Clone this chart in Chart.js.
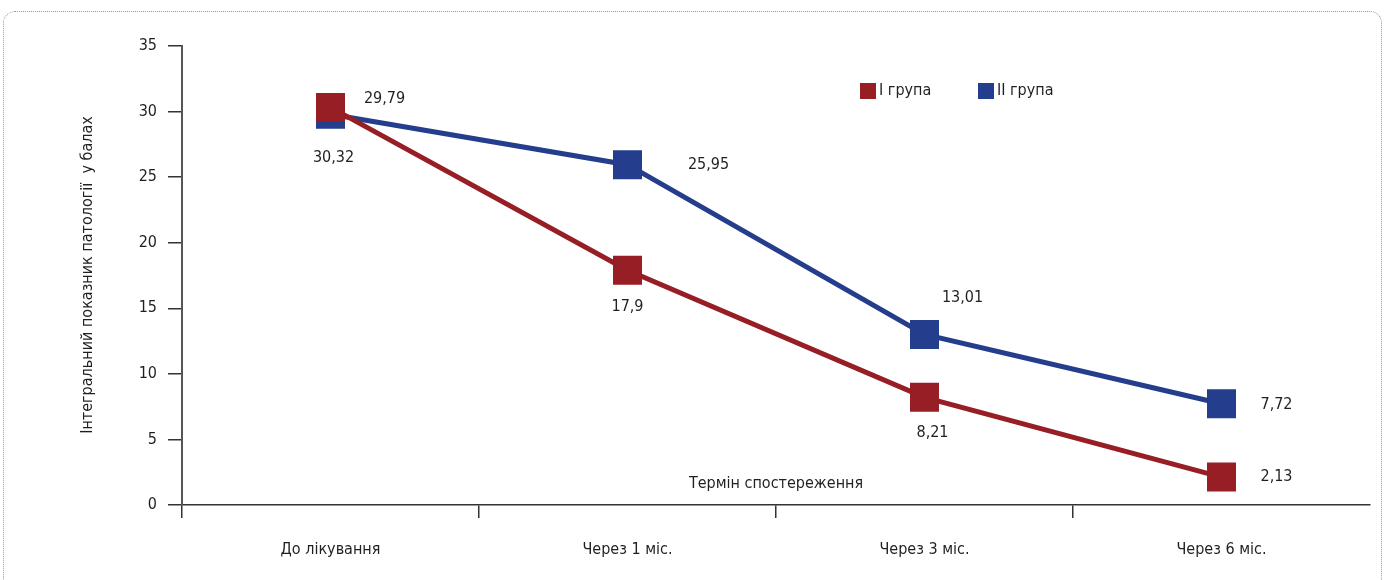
<!DOCTYPE html>
<html>
<head>
<meta charset="utf-8">
<script src="https://cdn.jsdelivr.net/npm/chart.js@4"></script>
<style>
  body { margin: 0; background: #fff; }
  #wrap { position: relative; width: 1385px; height: 580px; }
  #frame {
    position: absolute; left: 3px; top: 11px; width: 1379px; height: 600px;
    border: 1px dotted #999; border-radius: 12px; box-sizing: border-box;
  }
  canvas { position: absolute; left: 0; top: 0; }
</style>
</head>
<body>
<div id="wrap">
  <div id="frame"></div>
  <canvas id="chart" width="1385" height="580"></canvas>
</div>
<script>
const categories = ["До лікування", "Через 1 міс.", "Через 3 міс.", "Через 6 міс."];
const group1 = [30.32, 17.9, 8.21, 2.13];
const group2 = [29.79, 25.95, 13.01, 7.72];
const seriesNames = ["I група", "II група"];
const yTicks = [0, 5, 10, 15, 20, 25, 30, 35];
const yTitle = "Інтегральний показник патології  у балах";
const xTitle = "Термін спостереження";

const red = "#971e24";
const blue = "#243d8c";
const txt = "#231f20";
const font = "'Liberation Sans Narrow', 'DejaVu Sans Condensed', sans-serif";

// label offsets relative to each point (px)
const offsets1 = [[3, 50], [0, 37], [8, 36], [55, 0]];
const offsets2 = [[54, -15], [81, 0], [38, -37], [55, 1]];

const fmt = (v) => String(v).replace(".", ",");

const extras = {
  id: "extras",
  afterDatasetsDraw(chart) {
    const ctx = chart.ctx;
    const area = chart.chartArea;
    ctx.save();
    ctx.fillStyle = txt;
    ctx.font = "16px " + font;
    ctx.textAlign = "center";
    ctx.textBaseline = "middle";
    // value labels
    [[0, group1, offsets1], [1, group2, offsets2]].forEach(([di, vals, offs]) => {
      const meta = chart.getDatasetMeta(di);
      meta.data.forEach((pt, i) => {
        ctx.fillText(fmt(vals[i]), pt.x + offs[i][0], pt.y + offs[i][1]);
      });
    });
    // x axis title inside the plot
    ctx.fillText(xTitle, (area.left + area.right) / 2, area.bottom - 21);
    // y axis title
    ctx.save();
    ctx.translate(88, 275);
    ctx.rotate(-Math.PI / 2);
    ctx.fillText(yTitle, 0, 0);
    ctx.restore();
    // legend
    ctx.textAlign = "left";
    const items = [[seriesNames[0], red, 860], [seriesNames[1], blue, 978]];
    items.forEach(([name, col, x]) => {
      ctx.fillStyle = col;
      ctx.fillRect(x, 83, 16, 16);
      ctx.fillStyle = txt;
      ctx.fillText(name, x + 19, 91);
    });
    ctx.restore();
  }
};

new Chart(document.getElementById("chart").getContext("2d"), {
  type: "line",
  data: {
    labels: categories,
    datasets: [
      {
        label: seriesNames[0],
        data: group1,
        borderColor: red,
        backgroundColor: red,
        borderWidth: 5,
        pointStyle: "rect",
        pointRadius: 20.5,
        pointHoverRadius: 20.5,
        pointBorderWidth: 0,
      },
      {
        label: seriesNames[1],
        data: group2,
        borderColor: blue,
        backgroundColor: blue,
        borderWidth: 5,
        pointStyle: "rect",
        pointRadius: 20.5,
        pointHoverRadius: 20.5,
        pointBorderWidth: 0,
      },
    ],
  },
  options: {
    responsive: false,
    animation: false,
    layout: { autoPadding: false, padding: { top: 46, right: 15, left: 0, bottom: 0 } },
    plugins: { legend: { display: false }, tooltip: { enabled: false } },
    scales: {
      x: {
        offset: true,
        grid: {
          offset: true,
          drawOnChartArea: false,
          tickLength: 13,
          color: (c) => (c.type === "tick" ? "#333" : "rgba(0,0,0,0)"),
          lineWidth: 1.5,
        },
        border: { color: "#333", width: 1.5 },
        ticks: { color: txt, font: { family: font, size: 16 }, padding: 22, maxRotation: 0 },
        afterFit: (s) => { s.height = 75; },
      },
      y: {
        min: 0,
        max: 35,
        afterBuildTicks: (s) => { s.ticks = yTicks.map((v) => ({ value: v })); },
        grid: { drawOnChartArea: false, tickLength: 14, color: "#333", lineWidth: 1.5 },
        border: { color: "#555", width: 2 },
        ticks: { color: txt, font: { family: font, size: 16 }, padding: 11 },
        afterFit: (s) => { s.width = 182; },
      },
    },
  },
  plugins: [extras],
});
</script>
</body>
</html>
